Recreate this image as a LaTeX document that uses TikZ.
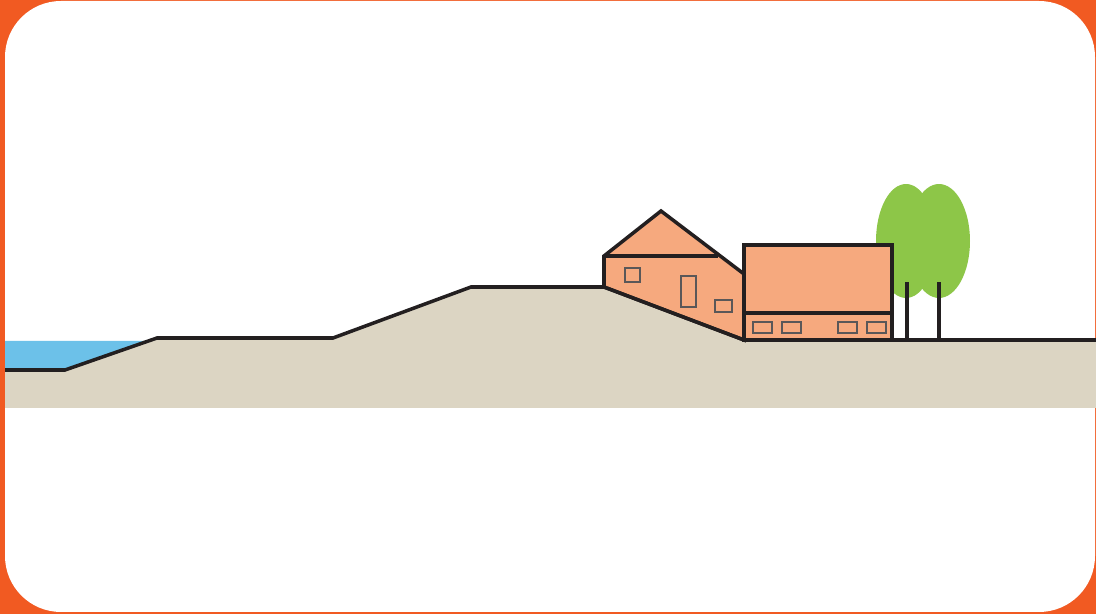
\documentclass[tikz,border=0pt]{standalone}
\definecolor{frameorange}{HTML}{F15A22}
\definecolor{sand}{HTML}{DCD5C3}
\definecolor{water}{HTML}{6CC1E9}
\definecolor{brick}{HTML}{F6A97E}
\definecolor{leaf}{HTML}{8DC648}
\definecolor{ink}{HTML}{231F20}
\begin{document}
\begin{tikzpicture}[x=0.02cm, y=-0.02cm,
    outline/.style={draw=ink, line width=2pt, line join=miter},
    window/.style={draw=ink!75, line width=0.7pt}]
    \def\base{340}
    \useasboundingbox (0,0) rectangle (1096,614);

    % frame
    \fill[frameorange] (0,0) rectangle (1096,614);
    \fill[white, rounded corners=1.12cm] (5,1) rectangle (1095,612);

    % ground and water
    \fill[sand] (5,370) -- (65,370) -- (157,338) -- (333,338) -- (471,287)
        -- (604,287) -- (744,\base) -- (1096,\base) -- (1096,408) -- (5,408) -- cycle;
    \fill[water] (5,341) -- (148,341) -- (65,370) -- (5,370) -- cycle;

    % trees
    \fill[leaf] (906,241) ellipse [x radius=0.6cm, y radius=1.14cm];
    \fill[leaf] (939,241) ellipse [x radius=0.62cm, y radius=1.14cm];
    \draw[outline] (907,\base) -- (907,282);
    \draw[outline] (939,\base) -- (939,282);

    % old house on the dike slope
    \filldraw[fill=brick, outline] (604,287) -- (604,256) -- (661,211) -- (744,274)
        -- (744,\base) -- cycle;
    \draw[outline] (604,256) -- (718,256);
    \draw[window] (625,268) rectangle (640,282);
    \draw[window] (681,276) rectangle (696,307);
    \draw[window] (715,300) rectangle (732,312);

    % new house behind the dike
    \filldraw[fill=brick, outline] (744,245) rectangle (892,\base);
    \draw[outline] (744,313) -- (892,313);
    \foreach \x in {753,782,838,867}
        \draw[window] (\x,322) rectangle ++(19,11);

    % dike profile
    \draw[outline] (5,370) -- (65,370) -- (157,338) -- (333,338) -- (471,287)
        -- (604,287) -- (744,\base) -- (1096,\base);
\end{tikzpicture}
\end{document}
